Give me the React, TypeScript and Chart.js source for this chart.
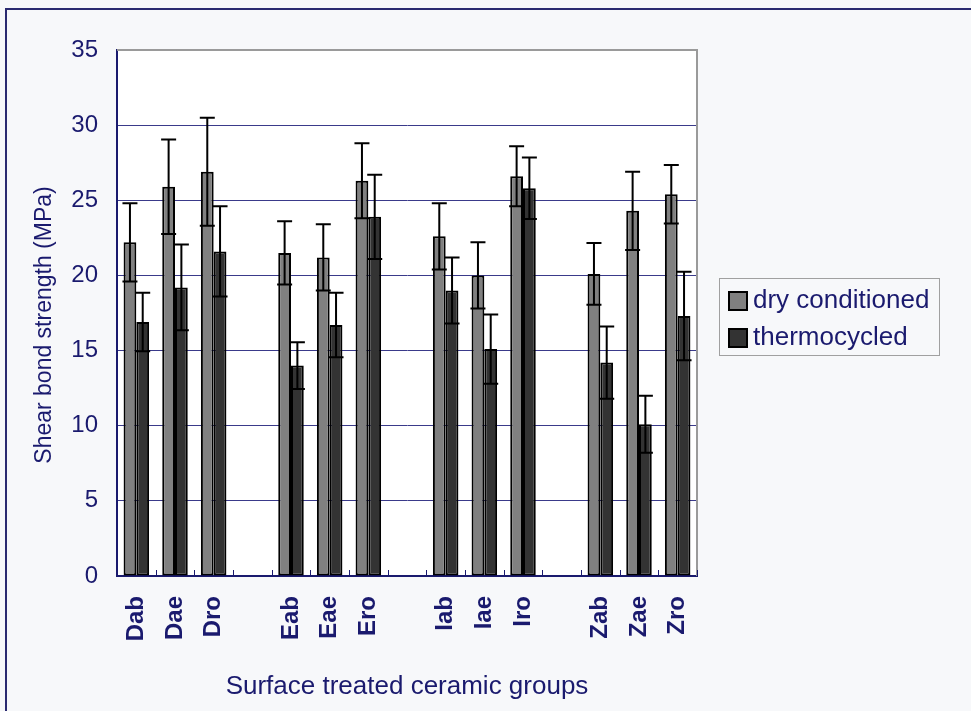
import React, { useEffect, useRef } from "react";
import { Chart, registerables } from "chart.js";

Chart.register(...registerables);

// ---- data ----
const categories = ["Dab", "Dae", "Dro", "", "Eab", "Eae", "Ero", "", "Iab", "Iae", "Iro", "", "Zab", "Zae", "Zro"];
const dryConditioned = [22.2, 25.9, 26.9, null, 21.5, 21.2, 26.3, null, 22.6, 20.0, 26.6, null, 20.1, 24.3, 25.4];
const dryErr = [2.6, 3.15, 3.6, null, 2.1, 2.2, 2.5, null, 2.2, 2.2, 2.0, null, 2.05, 2.6, 1.95];
const thermocycled = [16.9, 19.2, 21.6, null, 14.0, 16.7, 23.9, null, 19.0, 15.1, 25.8, null, 14.2, 10.1, 17.3];
const thermoErr = [1.95, 2.85, 3.0, null, 1.55, 2.15, 2.8, null, 2.2, 2.3, 2.05, null, 2.4, 1.9, 2.95];
const seriesNames = ["dry conditioned", "thermocycled"];
const yMin = 0;
const yMax = 35;
const yStep = 5;
const xTitle = "Surface treated ceramic groups";
const yTitle = "Shear bond strength (MPa)";

const NAVY = "#1a1a6e";
const GRID = "#3a3a8a";
const FONT = "'Liberation Sans', Arial, sans-serif";
const COLORS = ["#808080", "#333333"];

const decor = {
  id: "decor",
  beforeDraw(chart: any) {
    const { ctx, width, height, chartArea: a } = chart;
    ctx.save();
    ctx.fillStyle = "#f7f8fa";
    ctx.fillRect(0, 0, width, height);
    ctx.fillStyle = "#ffffff";
    ctx.fillRect(a.left, a.top, a.right - a.left, a.bottom - a.top);
    ctx.strokeStyle = "#2a2a70";
    ctx.lineWidth = 2;
    ctx.strokeRect(6, 9, width + 40, height + 40);
    ctx.restore();
  },
  afterDatasetsDraw(chart: any) {
    const { ctx } = chart;
    const y = chart.scales.y;
    const errs = [dryErr, thermoErr];
    ctx.save();
    ctx.strokeStyle = "#000";
    ctx.lineWidth = 2;
    chart.data.datasets.forEach((ds: any, di: number) => {
      const meta = chart.getDatasetMeta(di);
      meta.data.forEach((bar: any, i: number) => {
        const v = ds.data[i];
        const e = errs[di][i];
        if (v == null || e == null) return;
        const x = bar.x;
        const yT = y.getPixelForValue(v + e);
        const yB = y.getPixelForValue(v - e);
        const cap = 7.5;
        ctx.beginPath();
        ctx.moveTo(x, yT);
        ctx.lineTo(x, yB);
        ctx.moveTo(x - cap, yT);
        ctx.lineTo(x + cap, yT);
        ctx.moveTo(x - cap, yB);
        ctx.lineTo(x + cap, yB);
        ctx.stroke();
      });
    });
    ctx.restore();
  },
  afterDraw(chart: any) {
    const { ctx, chartArea: a } = chart;
    const xs = chart.scales.x;
    ctx.save();
    // top & right plot border
    ctx.strokeStyle = "#9a9a9a";
    ctx.lineWidth = 2;
    ctx.beginPath();
    ctx.moveTo(a.left, a.top);
    ctx.lineTo(a.right, a.top);
    ctx.lineTo(a.right, a.bottom);
    ctx.stroke();
    // inner x tick marks at category boundaries
    const step = xs.getPixelForValue(1) - xs.getPixelForValue(0);
    ctx.strokeStyle = NAVY;
    ctx.lineWidth = 1;
    for (let i = 0; i <= categories.length; i++) {
      const px = Math.round(xs.getPixelForValue(0) - step / 2 + i * step) + 0.5;
      ctx.beginPath();
      ctx.moveTo(px, a.bottom);
      ctx.lineTo(px, a.bottom - 6);
      ctx.stroke();
    }
    // axis titles
    ctx.fillStyle = NAVY;
    ctx.textAlign = "center";
    ctx.textBaseline = "middle";
    ctx.font = `26px ${FONT}`;
    ctx.fillText(xTitle, (a.left + a.right) / 2, 687);
    ctx.save();
    ctx.translate(45, 325);
    ctx.rotate(-Math.PI / 2);
    ctx.font = `23px ${FONT}`;
    ctx.fillText(yTitle, 0, 0);
    ctx.restore();
    // legend
    ctx.strokeStyle = "#a0a0a0";
    ctx.lineWidth = 1;
    ctx.strokeRect(719.5, 278.5, 220, 77);
    const rows = [301, 338];
    chart.data.datasets.forEach((ds: any, di: number) => {
      const cy = rows[di];
      ctx.fillStyle = ds.backgroundColor;
      ctx.fillRect(729, cy - 9, 18, 18);
      ctx.strokeStyle = "#000";
      ctx.lineWidth = 2;
      ctx.strokeRect(729, cy - 9, 18, 18);
      ctx.fillStyle = NAVY;
      ctx.textAlign = "left";
      ctx.textBaseline = "middle";
      ctx.font = `26px ${FONT}`;
      ctx.fillText(ds.label, 753, cy);
    });
    ctx.restore();
  },
};

export default function App() {
  const ref = useRef<HTMLCanvasElement | null>(null);
  useEffect(() => {
    if (!ref.current) return;
    const chart = new Chart(ref.current, {
      type: "bar",
      data: {
        labels: categories,
        datasets: [
          {
            label: seriesNames[0],
            data: dryConditioned,
            backgroundColor: COLORS[0],
            borderColor: "#000",
            borderWidth: 2,
            borderSkipped: false,
          },
          {
            label: seriesNames[1],
            data: thermocycled,
            backgroundColor: COLORS[1],
            borderColor: "#000",
            borderWidth: 2,
            borderSkipped: false,
          },
        ],
      } as any,
      options: {
        responsive: false,
        animation: false,
        devicePixelRatio: 1,
        layout: { padding: { left: 0, top: 50, right: 274, bottom: 0 } },
        datasets: { bar: { categoryPercentage: 0.66, barPercentage: 1.0 } },
        plugins: { legend: { display: false }, tooltip: { enabled: false } },
        scales: {
          x: {
            afterFit: (s: any) => {
              s.height = 135;
            },
            grid: { drawOnChartArea: false, drawTicks: false },
            border: { display: true, color: NAVY, width: 2 },
            ticks: {
              autoSkip: false,
              minRotation: 90,
              maxRotation: 90,
              padding: 20,
              color: NAVY,
              font: { family: FONT, size: 24, weight: "bold" },
            },
          },
          y: {
            min: yMin,
            max: yMax,
            afterFit: (s: any) => {
              s.width = 117;
            },
            grid: {
              drawTicks: false,
              color: (c: any) => (c.tick && (c.tick.value === yMax || c.tick.value === yMin) ? "rgba(0,0,0,0)" : GRID),
              lineWidth: 1,
            },
            border: { display: true, color: NAVY, width: 2 },
            ticks: {
              stepSize: yStep,
              padding: 19,
              color: NAVY,
              font: { family: FONT, size: 24 },
            },
          },
        },
      } as any,
      plugins: [decor],
    });
    return () => chart.destroy();
  }, []);
  return (
    <div style={{ position: "fixed", left: 0, top: 0, width: 971, height: 711 }}>
      <canvas ref={ref} width={971} height={711} style={{ display: "block", width: 971, height: 711 }} />
    </div>
  );
}
